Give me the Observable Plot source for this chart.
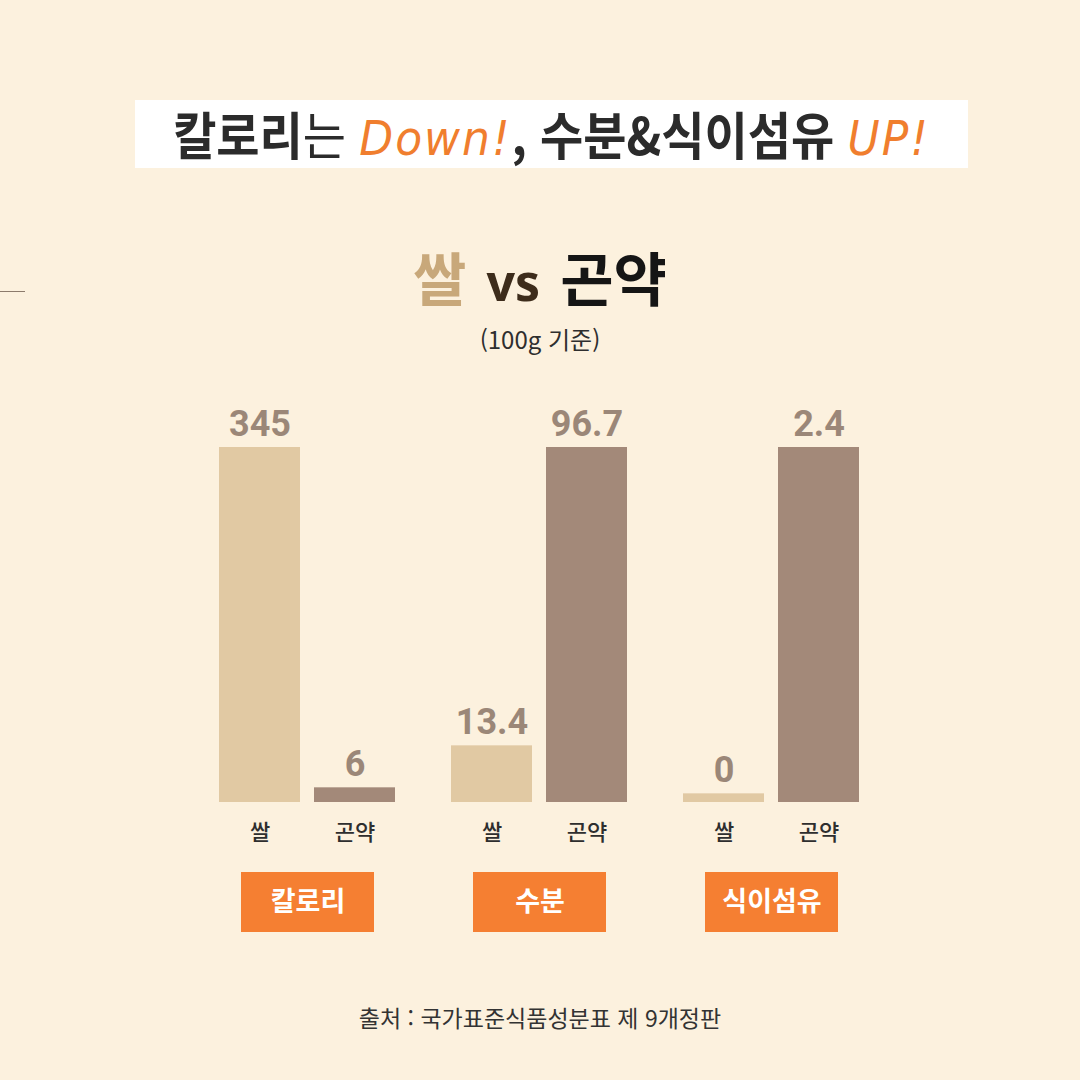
<!DOCTYPE html>
<html lang="ko">
<head>
<meta charset="utf-8">
<script src="https://cdn.jsdelivr.net/npm/d3@7"></script>
<script src="https://cdn.jsdelivr.net/npm/@observablehq/plot@0.6"></script>
<style>
  html, body { margin: 0; padding: 0; }
  body { width: 1080px; height: 1080px; background: #FCF1DE; font-family: "Noto Sans CJK KR", "Noto Sans", sans-serif; }
  #page { position: relative; width: 1080px; height: 1080px; overflow: hidden; background: #FCF1DE; }
  #titlebox { position: absolute; left: 135px; top: 100px; width: 833px; height: 68px; background: #FFFFFF;
    display: flex; align-items: center; justify-content: center; }
  #title { font-size: 47px; font-weight: 700; color: #2B2B2B; letter-spacing: 0px; white-space: nowrap; line-height: 1; transform: scale(1, 1.1); }
  #title .light { font-weight: 400; }
  #title .hand { color: #F07E2E; font-family: "DejaVu Sans", sans-serif; font-style: italic; font-weight: 400; font-size: 44px; letter-spacing: 2px; }
  #sub { position: absolute; left: 0; width: 1080px; top: 240px; text-align: center; font-size: 58px; font-weight: 700; line-height: 72px; white-space: nowrap; }
  #sub .rice { color: #C8A87A; }
  #sub .vs { color: #3D2C1B; font-family: "Noto Sans", sans-serif; font-size: 50px; margin: 0 20px; }
  #sub .konj { color: #151515; }
  #basis { position: absolute; left: 0; width: 1080px; top: 324px; text-align: center; font-size: 24px; color: #2E2E2E; line-height: 30px; }
  #rule { position: absolute; left: 0; top: 291px; width: 25px; height: 1px; background: #8C7B6C; }
  #chart { position: absolute; left: 0; top: 380px; }
  #caption { position: absolute; left: 0; width: 1080px; top: 1002px; text-align: center; font-size: 23px; color: #333333; line-height: 30px; }
</style>
</head>
<body>
<div id="page">
  <div id="titlebox"><div id="title">칼로리<span class="light">는</span> <span class="hand">Down!</span>, 수분&amp;식이섬유 <span class="hand">UP!</span></div></div>
  <div id="rule"></div>
  <div id="sub"><span class="rice">쌀</span><span class="vs">vs</span><span class="konj">곤약</span></div>
  <div id="basis">(100g 기준)</div>
  <div id="chart"></div>
  <div id="caption">출처 : 국가표준식품성분표 제 9개정판</div>
</div>
<script>
// ---- data ----
const groups = ["칼로리", "수분", "식이섬유"];
const items = ["쌀", "곤약"];
const riceValues = [345, 13.4, 0];
const konjacValues = [6, 96.7, 2.4];

// ---- build table (each group scaled to its own maximum, as in the original) ----
const rows = [];
groups.forEach((g, i) => {
  const vals = [riceValues[i], konjacValues[i]];
  const max = Math.max(...vals);
  items.forEach((it, j) => rows.push({group: g, item: it, value: vals[j], share: vals[j] / max}));
});

const STUB = 0.025; // small visible base so that tiny / zero values still show a bar
const colors = {"쌀": "#E1C9A3", "곤약": "#A38979"};

const chart = Plot.plot({
  width: 1080,
  height: 580,
  marginLeft: 219,
  marginRight: 219,
  marginTop: 67,
  marginBottom: 158,
  style: {background: "transparent", fontFamily: "'Noto Sans CJK KR', sans-serif"},
  fx: {domain: groups, paddingInner: 0.236, paddingOuter: 0, axis: null, label: null},
  x: {domain: items, paddingInner: 0.146, paddingOuter: 0, label: null},
  y: {domain: [-STUB, 1], axis: null},
  marks: [
    Plot.barY(rows, {fx: "group", x: "item", y1: -STUB, y2: "share", fill: d => colors[d.item]}),
    Plot.text(rows, {fx: "group", x: "item", y: "share", text: d => String(d.value), dy: -23,
      fill: "#9B8778", fontSize: 36, fontWeight: 700, fontFamily: "Roboto, sans-serif"}),
    Plot.axisX({tickSize: 0, tickPadding: 22, fontSize: 22, fontWeight: 500, fill: "#2E2E2E", label: null,
      fontFamily: "'Noto Sans CJK KR', sans-serif"}),
    Plot.rect(groups, {fx: d => d, fill: "#F57F32", insetLeft: 22, insetRight: 22, insetTop: 425, insetBottom: -130}),
    Plot.text(groups, {fx: d => d, text: d => d, frameAnchor: "bottom", dy: 108, fill: "#FFFFFF",
      fontSize: 27, fontWeight: 700, fontFamily: "'Noto Sans CJK KR', sans-serif"})
  ]
});
document.getElementById("chart").appendChild(chart);
</script>
</body>
</html>
